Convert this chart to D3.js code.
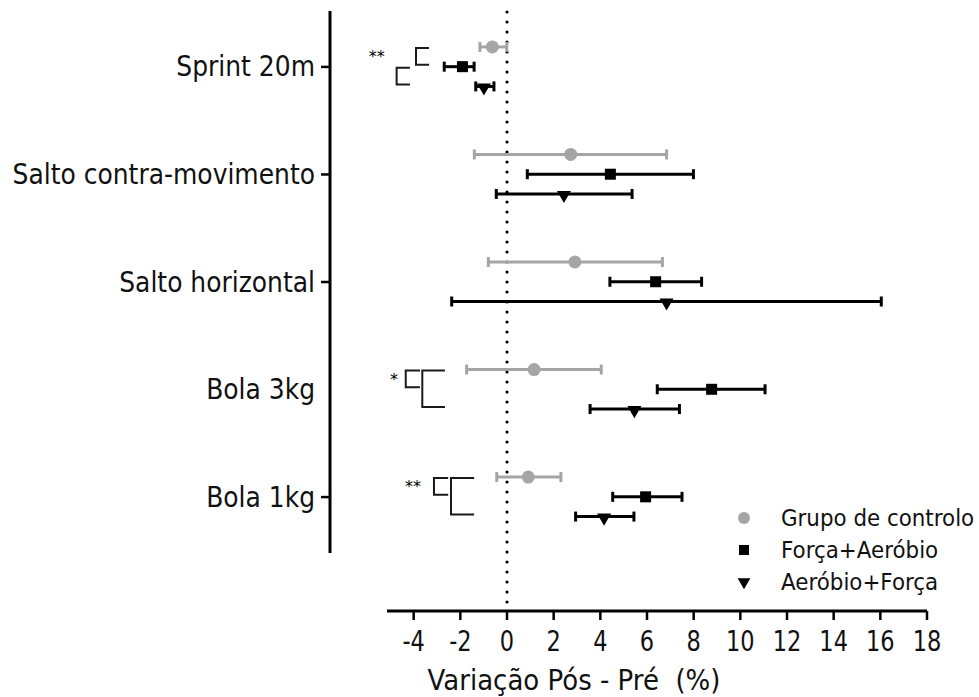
<!DOCTYPE html>
<html><head><meta charset="utf-8">
<script src="https://cdn.jsdelivr.net/npm/d3@7"></script>
<style>body{margin:0;background:#fff}</style>
</head><body><svg id="c" width="979" height="697"></svg>
<script>
const categories = ["Sprint 20m","Salto contra-movimento","Salto horizontal","Bola 3kg","Bola 1kg"];
const seriesNames = ["Grupo de controlo","Força+Aeróbio","Aeróbio+Força"];
const controlMean = [-0.63, 2.73, 2.91, 1.16, 0.91];
const controlLow  = [-1.16, -1.40, -0.80, -1.73, -0.44];
const controlHigh = [-0.01, 6.84, 6.66, 4.04, 2.31];
const faMean = [-1.91, 4.43, 6.37, 8.77, 5.94];
const faLow  = [-2.69, 0.87, 4.41, 6.44, 4.53];
const faHigh = [-1.41, 7.99, 8.34, 11.06, 7.50];
const afMean = [-0.99, 2.44, 6.84, 5.46, 4.16];
const afLow  = [-1.34, -0.46, -2.37, 3.56, 2.94];
const afHigh = [-0.56, 5.36, 16.04, 7.39, 5.44];
const xTicks = [-4,-2,0,2,4,6,8,10,12,14,16,18];
const tickedCategories = ["Sprint 20m","Salto contra-movimento","Salto horizontal","Bola 1kg"];
const bracketCat  = [0, 0, 3, 3, 4, 4];
const bracketFrom = [0, 1, 0, 0, 0, 0];
const bracketTo   = [1, 2, 1, 2, 1, 2];
const bracketX    = [-3.9, -4.73, -4.34, -3.63, -3.13, -2.4];
const bracketEnd  = [-3.34, -4.16, -3.73, -2.66, -2.52, -1.41];
const starCat  = [0, 3, 4];
const starText = ["**", "*", "**"];
const starX    = [-5.58, -4.84, -4.03];

const svg = d3.select("#c");
const FONT = "DejaVu Sans, sans-serif";
const FONTC = "DejaVu Sans Condensed, DejaVu Sans, sans-serif";
const colors = ["#a5a5a7", "#000", "#000"];

const x = d3.scaleLinear().domain([-5.143, 18]).range([387, 927]);
const y = d3.scalePoint().domain(categories).range([11, 553]).padding(0.52);
const off = d3.scalePoint().domain([0,1,2]).range([-20, 19.5]);

const series = [
  {mean: controlMean, low: controlLow, high: controlHigh},
  {mean: faMean, low: faLow, high: faHigh},
  {mean: afMean, low: afLow, high: afHigh}
];
const sy = (c, s) => y(categories[c]) + off(s);

function stretchedText(sel, tx, ty, sx, syv) {
  return sel.attr("transform", (d, i) => `translate(${tx(d, i)},${ty(d, i)}) scale(${sx},${syv})`);
}

// zero dotted line
svg.append("line").attr("x1", x(0)).attr("x2", x(0)).attr("y1", 12).attr("y2", 606)
  .attr("stroke", "#000").attr("stroke-width", 3.2).attr("stroke-dasharray", "0,10").attr("stroke-linecap", "round");

// y axis
svg.append("line").attr("x1", 330).attr("x2", 330).attr("y1", 11).attr("y2", 553)
  .attr("stroke", "#000").attr("stroke-width", 3);
svg.selectAll(".ytick").data(tickedCategories).join("line")
  .attr("x1", 321).attr("x2", 330).attr("y1", d => y(d)).attr("y2", d => y(d))
  .attr("stroke", "#000").attr("stroke-width", 2.5);
stretchedText(svg.selectAll(".ylab").data(categories).join("text"), () => 315, d => y(d) + 9.5, 1, 1.1)
  .attr("text-anchor", "end").attr("font-family", FONT).attr("font-size", 25).attr("fill", "#111")
  .text(d => d);

// x axis
svg.append("line").attr("x1", 387).attr("x2", 927).attr("y1", 611).attr("y2", 611)
  .attr("stroke", "#000").attr("stroke-width", 3);
svg.selectAll(".xtick").data(xTicks).join("line")
  .attr("x1", d => x(d)).attr("x2", d => x(d)).attr("y1", 611).attr("y2", 620)
  .attr("stroke", "#000").attr("stroke-width", 2.5);
stretchedText(svg.selectAll(".xlab").data(xTicks).join("text"), d => x(d), () => 651, 1, 1.15)
  .attr("text-anchor", "middle")
  .attr("font-family", FONTC).attr("font-size", 25).attr("fill", "#111")
  .text(d => d < 0 ? "-" + Math.abs(d) : d);
stretchedText(svg.append("text"), () => 574, () => 690, 1, 1.1).attr("text-anchor", "middle")
  .attr("font-family", FONT).attr("font-size", 26).attr("fill", "#111")
  .attr("xml:space", "preserve")
  .text("Variação Pós - Pré  (%)");

// error bars & markers
series.forEach((s, si) => {
  const g = svg.append("g").attr("stroke", colors[si]).attr("fill", colors[si]);
  categories.forEach((c, ci) => {
    const yy = sy(ci, si);
    g.append("line").attr("x1", x(s.low[ci])).attr("x2", x(s.high[ci])).attr("y1", yy).attr("y2", yy).attr("stroke-width", 3);
    [s.low[ci], s.high[ci]].forEach(v => {
      g.append("line").attr("x1", x(v)).attr("x2", x(v)).attr("y1", yy - 5).attr("y2", yy + 5).attr("stroke-width", 3);
    });
    const mx = x(s.mean[ci]);
    if (si === 0) g.append("circle").attr("cx", mx).attr("cy", yy).attr("r", 6.5).attr("stroke", "none");
    else if (si === 1) g.append("rect").attr("x", mx - 5.5).attr("y", yy - 5.5).attr("width", 11).attr("height", 11).attr("stroke", "none");
    else g.append("path").attr("d", d3.symbol(d3.symbolTriangle, 85)()).attr("transform", `translate(${mx},${yy + 1}) rotate(180)`).attr("stroke", "none");
  });
});

// brackets
bracketCat.forEach((c, i) => {
  const y1 = sy(c, bracketFrom[i]) + 1;
  const y2 = sy(c, bracketTo[i]) - 2;
  const x0 = x(bracketX[i]), x1 = x(bracketEnd[i]);
  svg.append("path").attr("d", `M${x1},${y1}H${x0}V${y2}H${x1}`)
    .attr("fill", "none").attr("stroke", "#1a1a1a").attr("stroke-width", 2);
});
starCat.forEach((c, i) => {
  svg.append("text").attr("x", x(starX[i])).attr("y", y(categories[c]) - 5).attr("text-anchor", "middle")
    .attr("font-family", FONT).attr("font-size", 16).attr("fill", "#000").text(starText[i]);
});

// legend
const lg = svg.append("g");
seriesNames.forEach((n, i) => {
  const ly = 518 + i * 32;
  if (i === 0) lg.append("circle").attr("cx", 744).attr("cy", ly).attr("r", 6).attr("fill", colors[0]);
  else if (i === 1) lg.append("rect").attr("x", 739).attr("y", ly - 5).attr("width", 10).attr("height", 10).attr("fill", "#000");
  else lg.append("path").attr("d", d3.symbol(d3.symbolTriangle, 70)()).attr("transform", `translate(744,${ly}) rotate(180)`).attr("fill", "#000");
  stretchedText(lg.append("text"), () => 781, () => ly + 7.5, 1, 1.08).attr("font-family", FONT)
    .attr("font-size", 21.4).attr("fill", "#111").text(n);
});
</script></body></html>
